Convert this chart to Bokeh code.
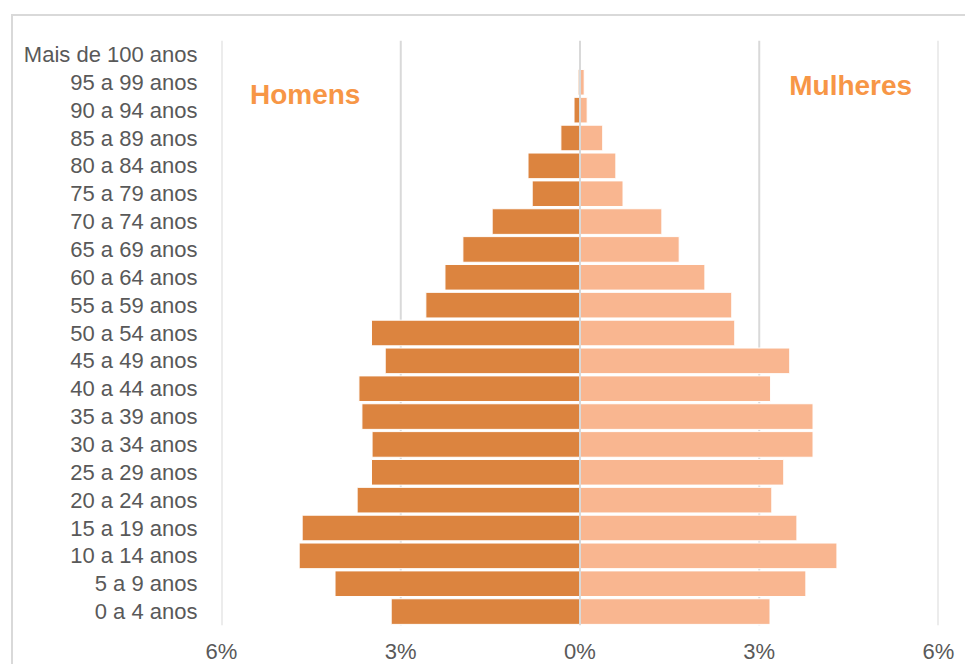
from bokeh.plotting import figure
from bokeh.models import Range1d, FixedTicker, Span, ColumnDataSource
from bokeh.core.properties import value
from bokeh.embed import file_html
from bokeh.resources import INLINE

categories = ["0 a 4 anos", "5 a 9 anos", "10 a 14 anos", "15 a 19 anos", "20 a 24 anos",
              "25 a 29 anos", "30 a 34 anos", "35 a 39 anos", "40 a 44 anos", "45 a 49 anos",
              "50 a 54 anos", "55 a 59 anos", "60 a 64 anos", "65 a 69 anos", "70 a 74 anos",
              "75 a 79 anos", "80 a 84 anos", "85 a 89 anos", "90 a 94 anos", "95 a 99 anos",
              "Mais de 100 anos"]
homens = [3.16, 4.10, 4.70, 4.65, 3.73, 3.49, 3.48, 3.65, 3.70, 3.26,
          3.49, 2.58, 2.26, 1.96, 1.47, 0.80, 0.87, 0.32, 0.10, 0.03, 0.0]
mulheres = [3.18, 3.78, 4.30, 3.63, 3.21, 3.41, 3.90, 3.90, 3.19, 3.51,
            2.59, 2.54, 2.09, 1.66, 1.37, 0.72, 0.60, 0.38, 0.12, 0.07, 0.0]
x_ticks = [-6, -3, 0, 3, 6]
x_tick_labels = ["6%", "3%", "0%", "3%", "6%"]

idx = list(range(len(categories)))
src = ColumnDataSource(dict(
    y=idx,
    men_left=[-v for v in homens],
    zero=[0] * len(idx),
    women_right=mulheres,
))

p = figure(width=954, height=650, output_backend="svg", toolbar_location=None,
           x_range=Range1d(-6, 6), y_range=Range1d(-0.5, 20.5),
           min_border_left=208, min_border_right=29, min_border_top=24, min_border_bottom=41)
p.margin = (14, 0, 0, 11)
p.styles = {"border-top": "2px solid #d9d9d9", "border-left": "2px solid #d9d9d9"}
p.outline_line_color = None
p.background_fill_color = "white"
p.border_fill_color = "white"

for t in x_ticks:
    if t != 0:
        p.add_layout(Span(location=t, dimension="height", line_color="#d9d9d9",
                          line_width=2, level="underlay"))

p.hbar(y="y", left="men_left", right="zero", height=0.92, source=src,
       fill_color="#DC843F", line_color="white", line_width=1)
p.hbar(y="y", left="zero", right="women_right", height=0.92, source=src,
       fill_color="#F9B690", line_color="white", line_width=1)

p.add_layout(Span(location=0, dimension="height", line_color="#d9d9d9", line_width=2))

font = "Liberation Sans"
p.text(x=[-4.6], y=[18.56], text=["Homens"], text_font=value(font), text_font_style="bold",
       text_font_size="28px", text_color="#F79646", text_align="center", text_baseline="alphabetic")
p.text(x=[4.53], y=[18.89], text=["Mulheres"], text_font=value(font), text_font_style="bold",
       text_font_size="28px", text_color="#F79646", text_align="center", text_baseline="alphabetic")

p.xaxis.ticker = FixedTicker(ticks=x_ticks)
p.xaxis.major_label_overrides = {t: l for t, l in zip(x_ticks, x_tick_labels)}
p.yaxis.ticker = FixedTicker(ticks=idx)
p.yaxis.major_label_overrides = {i: c for i, c in zip(idx, categories)}

for ax in (p.xaxis, p.yaxis):
    ax.axis_line_color = None
    ax.major_tick_line_color = None
    ax.minor_tick_line_color = None
    ax.major_label_text_font = font
    ax.major_label_text_font_size = "22px"
    ax.major_label_text_color = "#595959"
p.yaxis.major_label_standoff = 18
p.xaxis.major_label_standoff = 7

p.grid.grid_line_color = None

open("out.html", "w").write(file_html(p, INLINE))
